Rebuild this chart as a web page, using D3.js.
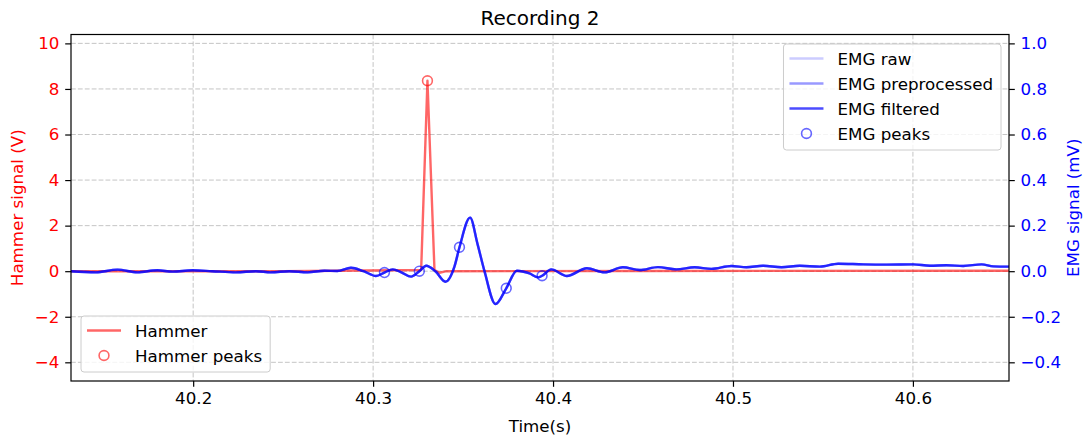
<!DOCTYPE html>
<html>
<head>
<meta charset="utf-8">
<script src="https://cdn.jsdelivr.net/npm/d3@7"></script>
<style>
  html, body { margin: 0; padding: 0; background: #fff; }
  svg { display: block; font-family: "DejaVu Sans", sans-serif; }
</style>
</head>
<body>
<svg id="chart" width="1086" height="435"></svg>
<script>
// Hammer trace (V)
const hammerTime  = [40.1321, 40.2500, 40.3267, 40.3302, 40.3341, 40.3369, 40.3408, 40.4500, 40.6534];
const hammerValue = [0.00, 0.00, 0.05, 8.36, 0.05, -0.07, 0.00, 0.01, 0.02];

// Hammer peak
const hammerPeakTime  = [40.3302];
const hammerPeakValue = [8.36];

// EMG filtered trace (mV)
const emgTime = [
  40.1321, 40.1459, 40.1579, 40.1690, 40.1801, 40.1885, 40.1996, 40.2106, 40.2238, 40.2349,
  40.2432, 40.2534, 40.2636, 40.2729, 40.2801, 40.2877, 40.2946, 40.3016, 40.3063, 40.3109,
  40.3157, 40.3211, 40.3257, 40.3295, 40.3346, 40.3402, 40.3452, 40.3480, 40.3539, 40.3580,
  40.3619, 40.3680, 40.3740, 40.3799, 40.3869, 40.3917, 40.3939, 40.3990, 40.4077, 40.4188,
  40.4286, 40.4388, 40.4481, 40.4583, 40.4685, 40.4787, 40.4880, 40.4991, 40.5075, 40.5167,
  40.5270, 40.5371, 40.5483, 40.5585, 40.5724, 40.5854, 40.6002, 40.6095, 40.6187, 40.6280,
  40.6382, 40.6447, 40.6534
];
const emgFiltered = [
  0.000, -0.005, 0.007, -0.005, 0.004, -0.002, 0.004, 0.000, -0.005, 0.000,
  -0.005, 0.000, -0.005, 0.002, 0.001, 0.015, 0.000, -0.021, -0.006, 0.008,
  -0.005, -0.024, 0.000, 0.024, 0.000, -0.046, 0.020, 0.105, 0.235, 0.120,
  0.000, -0.144, -0.075, 0.002, -0.010, -0.027, -0.020, 0.008, -0.021, 0.013,
  -0.005, 0.017, 0.005, 0.018, 0.008, 0.017, 0.010, 0.023, 0.017, 0.024,
  0.017, 0.024, 0.020, 0.033, 0.030, 0.029, 0.030, 0.024, 0.026, 0.023,
  0.030, 0.021, 0.020
];
// Raw and preprocessed EMG coincide with the filtered trace at this time scale
const emgRaw = emgFiltered;
const emgPreprocessed = emgFiltered;

// EMG peaks
const emgPeakTime  = [40.3063, 40.3257, 40.3480, 40.3740, 40.3939];
const emgPeakValue = [-0.006, 0.000, 0.105, -0.075, -0.020];

// Axis ticks
const xTicks = [40.2, 40.3, 40.4, 40.5, 40.6];
const hammerTicks = [-4, -2, 0, 2, 4, 6, 8, 10];
const emgTicks = [-0.4, -0.2, 0.0, 0.2, 0.4, 0.6, 0.8, 1.0];

// Limits
const xDomain = [40.1321, 40.6534];
const hammerDomain = [-4.82, 10.39];
const emgDomain = [-0.482, 1.039];

const svg = d3.select("#chart");
const pLeft = 71, pRight = 1009, pTop = 34.5, pBottom = 381;

const x = d3.scaleLinear().domain(xDomain).range([pLeft, pRight]);
const yH = d3.scaleLinear().domain(hammerDomain).range([pBottom, pTop]);
const yE = d3.scaleLinear().domain(emgDomain).range([pBottom, pTop]);

const RED = "#ff0000", BLUE = "#0000ff";
const fmtMinus = s => s.replace("-", "\u2212");
const fs = "16.7px";
const LW = 2.4, MR = 4.9, MW = 1.6, TICK = 5.8;

svg.append("defs").append("clipPath").attr("id", "plotclip")
  .append("rect").attr("x", pLeft).attr("y", pTop).attr("width", pRight - pLeft).attr("height", pBottom - pTop);

// Grid
const grid = svg.append("g");
const gridStyle = sel => sel.attr("stroke", "#b0b0b0").attr("stroke-width", 0.9)
  .attr("stroke-dasharray", "4.8,2.1").attr("opacity", 0.8);
xTicks.forEach(t => grid.append("line")
  .attr("x1", x(t)).attr("x2", x(t)).attr("y1", pTop).attr("y2", pBottom).call(gridStyle));
hammerTicks.forEach(t => grid.append("line")
  .attr("x1", pLeft).attr("x2", pRight).attr("y1", yH(t)).attr("y2", yH(t)).call(gridStyle));

// Traces
const plot = svg.append("g").attr("clip-path", "url(#plotclip)");
const emgLine = d3.line().x(d => x(d[0])).y(d => yE(d[1])).curve(d3.curveMonotoneX);
const hamLine = d3.line().x(d => x(d[0])).y(d => yH(d[1]));

plot.append("path").datum(d3.zip(hammerTime, hammerValue))
  .attr("d", hamLine).attr("fill", "none").attr("stroke", RED).attr("stroke-opacity", 0.6)
  .attr("stroke-width", LW).attr("stroke-linejoin", "round");

[[emgRaw, 0.2], [emgPreprocessed, 0.4], [emgFiltered, 0.7]].forEach(([vals, a]) => {
  plot.append("path").datum(d3.zip(emgTime, vals))
    .attr("d", emgLine).attr("fill", "none").attr("stroke", BLUE).attr("stroke-opacity", a)
    .attr("stroke-width", LW).attr("stroke-linejoin", "round");
});

plot.selectAll(".hpk").data(d3.zip(hammerPeakTime, hammerPeakValue)).join("circle")
  .attr("cx", d => x(d[0])).attr("cy", d => yH(d[1])).attr("r", MR)
  .attr("fill", "none").attr("stroke", RED).attr("stroke-opacity", 0.6).attr("stroke-width", MW);
plot.selectAll(".epk").data(d3.zip(emgPeakTime, emgPeakValue)).join("circle")
  .attr("cx", d => x(d[0])).attr("cy", d => yE(d[1])).attr("r", MR)
  .attr("fill", "none").attr("stroke", BLUE).attr("stroke-opacity", 0.6).attr("stroke-width", MW);

// Axes
function styleAxis(g, color) {
  g.select(".domain").remove();
  g.selectAll("text").attr("font-size", fs).attr("fill", color).attr("font-family", "DejaVu Sans");
  g.selectAll("line").attr("stroke", "#000").attr("stroke-width", 1.2);
}
svg.append("g").attr("transform", `translate(0,${pBottom})`)
  .call(d3.axisBottom(x).tickValues(xTicks).tickFormat(d3.format(".1f")).tickSize(TICK).tickPadding(5.4))
  .call(g => styleAxis(g, "#000"));
svg.append("g").attr("transform", `translate(${pLeft},0)`)
  .call(d3.axisLeft(yH).tickValues(hammerTicks).tickFormat(d => fmtMinus(d3.format("d")(d))).tickSize(TICK).tickPadding(5.8))
  .call(g => styleAxis(g, RED));
svg.append("g").attr("transform", `translate(${pRight},0)`)
  .call(d3.axisRight(yE).tickValues(emgTicks).tickFormat(d => fmtMinus(d3.format(".1f")(d))).tickSize(TICK).tickPadding(5.8))
  .call(g => styleAxis(g, BLUE));

// Frame
svg.append("rect").attr("x", pLeft).attr("y", pTop).attr("width", pRight - pLeft).attr("height", pBottom - pTop)
  .attr("fill", "none").attr("stroke", "#000").attr("stroke-width", 1.2);

// Titles
svg.append("text").attr("x", (pLeft + pRight) / 2).attr("y", 25).attr("text-anchor", "middle")
  .attr("font-size", "20px").attr("fill", "#000").text("Recording 2");
svg.append("text").attr("x", (pLeft + pRight) / 2).attr("y", 432).attr("text-anchor", "middle")
  .attr("font-size", fs).attr("fill", "#000").text("Time(s)");
svg.append("text").attr("transform", `translate(23,${(pTop + pBottom) / 2}) rotate(-90)`)
  .attr("text-anchor", "middle").attr("font-size", fs).attr("fill", RED).text("Hammer signal (V)");
svg.append("text").attr("transform", `translate(1079,${(pTop + pBottom) / 2}) rotate(-90)`)
  .attr("text-anchor", "middle").attr("font-size", fs).attr("fill", BLUE).text("EMG signal (mV)");

// Legends: box sized from the measured label widths
function legend(anchor, ax, ay, items) {
  const g = svg.append("g");
  const box = g.append("rect").attr("rx", 3)
    .attr("fill", "#fff").attr("fill-opacity", 0.8).attr("stroke", "#cccccc").attr("stroke-width", 1);
  const padL = 6, handle = 34, gap = 14, padR = 8, rowH = 25;
  const labels = items.map(it => g.append("text").attr("font-size", fs).attr("fill", "#000")
    .attr("dy", "0.36em").text(it.label));
  const tw = d3.max(labels, l => l.node().getComputedTextLength());
  const w = padL + handle + gap + tw + padR, h = rowH * items.length + 6;
  const x0 = anchor === "right" ? ax - w : ax;
  const y0 = anchor === "right" ? ay : ay - h;
  box.attr("x", x0).attr("y", y0).attr("width", w).attr("height", h);
  items.forEach((it, i) => {
    const cy = y0 + 14.5 + i * rowH;
    if (it.type === "line") {
      g.append("line").attr("x1", x0 + padL).attr("x2", x0 + padL + handle).attr("y1", cy).attr("y2", cy)
        .attr("stroke", it.color).attr("stroke-opacity", it.alpha).attr("stroke-width", LW);
    } else {
      g.append("circle").attr("cx", x0 + padL + handle / 2).attr("cy", cy).attr("r", MR)
        .attr("fill", "none").attr("stroke", it.color).attr("stroke-opacity", it.alpha).attr("stroke-width", MW);
    }
    labels[i].attr("x", x0 + padL + handle + gap).attr("y", cy);
  });
}
legend("right", 1001, 44, [
  { type: "line", color: BLUE, alpha: 0.2, label: "EMG raw" },
  { type: "line", color: BLUE, alpha: 0.4, label: "EMG preprocessed" },
  { type: "line", color: BLUE, alpha: 0.7, label: "EMG filtered" },
  { type: "marker", color: BLUE, alpha: 0.6, label: "EMG peaks" }
]);
legend("left", 81, 372, [
  { type: "line", color: RED, alpha: 0.6, label: "Hammer" },
  { type: "marker", color: RED, alpha: 0.6, label: "Hammer peaks" }
]);
</script>
</body>
</html>
